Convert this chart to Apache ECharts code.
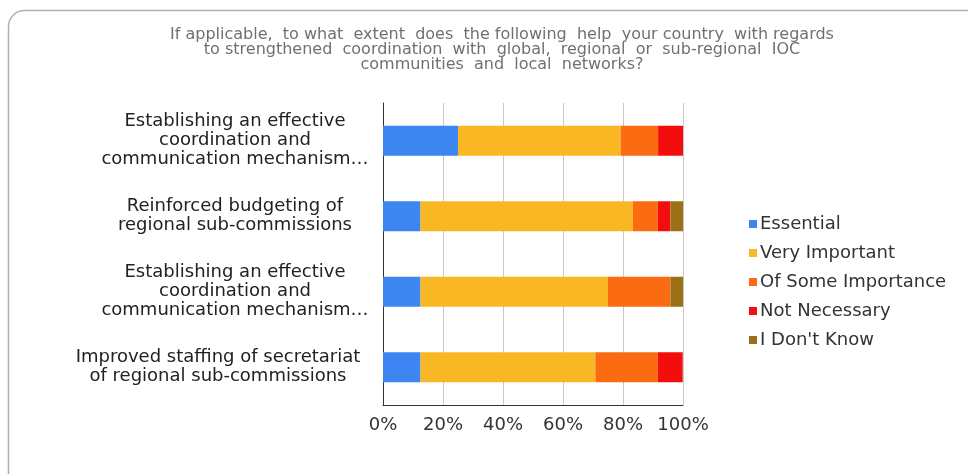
<!DOCTYPE html>
<html>
<head>
<meta charset="utf-8">
<script src="https://cdn.jsdelivr.net/npm/echarts@6/dist/echarts.min.js"></script>
<style>html,body{margin:0;padding:0;background:#fff;}#c{width:968px;height:474px;}</style>
</head>
<body>
<div id="c"></div>
<script>
const titleText = "If applicable,  to what  extent  does  the following  help  your country  with regards\nto strengthened  coordination  with  global,  regional  or  sub-regional  IOC\ncommunities  and  local  networks?";
const categories = [
  "Establishing an effective\ncoordination and\ncommunication mechanism…",
  "Reinforced budgeting of\nregional sub-commissions",
  "Establishing an effective\ncoordination and\ncommunication mechanism…",
  "Improved staffing of secretariat\nof regional sub-commissions"
];
const seriesNames = ["Essential", "Very Important", "Of Some Importance", "Not Necessary", "I Don't Know"];
const essential = [25, 12.5, 12.5, 12.5];
const veryImportant = [54.2, 70.8, 62.5, 58.3];
const someImportance = [12.5, 8.3, 20.8, 20.8];
const notNecessary = [8.3, 4.2, 0, 8.3];
const dontKnow = [0, 4.2, 4.2, 0];
const xTicks = [0, 20, 40, 60, 80, 100];
const colors = ["#3d85f0", "#f9b723", "#fb6c12", "#f30d0d", "#9b7016"];

const allValues = [essential, veryImportant, someImportance, notNecessary, dontKnow];
const chart = echarts.init(document.getElementById('c'), null, {renderer: 'canvas'});
chart.setOption({
  animation: false,
  backgroundColor: '#fff',
  color: colors,
  graphic: [{
    type: 'rect', left: 6, top: 8,
    shape: {width: 975, height: 480, r: 16},
    style: {fill: 'none', stroke: '#b0b0b0', lineWidth: 1.5},
    silent: true, z: -1
  }],
  title: {
    text: titleText,
    left: 497, top: 22, textAlign: 'center',
    textStyle: {fontFamily: 'DejaVu Sans', fontSize: 16, fontWeight: 'normal', color: '#707070', lineHeight: 15}
  },
  legend: {
    orient: 'vertical', left: 744, top: 210,
    itemWidth: 8, itemHeight: 8, itemGap: 11, icon: 'rect',
    data: seriesNames,
    textStyle: {fontFamily: 'DejaVu Sans', fontSize: 18, color: '#333', padding: [0, 0, 0, -2]}
  },
  grid: {left: 383, right: 285, top: 103, bottom: 69, containLabel: false},
  xAxis: {
    type: 'value', min: 0, max: 100, interval: 20,
    axisLine: {show: true, lineStyle: {color: '#333', width: 1}},
    axisTick: {show: false},
    splitLine: {show: true, lineStyle: {color: '#c8c8c8', width: 1}},
    axisLabel: {formatter: v => xTicks.includes(v) ? v + '%' : '', fontFamily: 'DejaVu Sans', fontSize: 18, color: '#333', margin: 11}
  },
  yAxis: {
    type: 'category', data: categories, inverse: true,
    axisLine: {show: true, lineStyle: {color: '#333', width: 1}},
    axisTick: {show: false},
    axisLabel: {
      fontFamily: 'DejaVu Sans', fontSize: 18, color: '#222', lineHeight: 19, align: 'center', margin: 148,
      formatter: (v, i) => i === 3 ? '{s|' + v + '}' : v,
      rich: {s: {fontFamily: 'DejaVu Sans', fontSize: 18, color: '#222', lineHeight: 19, padding: [0, 34, 0, 0]}}
    }
  },
  series: seriesNames.map((n, i) => ({
    name: n, type: 'bar', stack: 'total', barWidth: 30,
    data: allValues[i],
    itemStyle: {color: colors[i]}
  }))
});
</script>
</body>
</html>
